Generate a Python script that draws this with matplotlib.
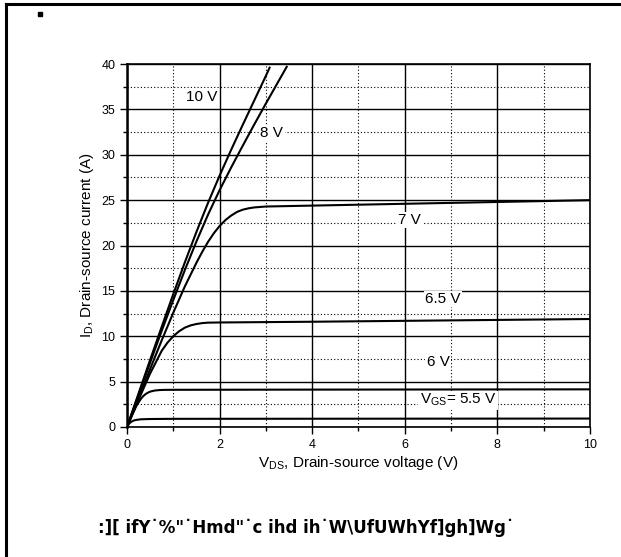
import numpy as np
import matplotlib
matplotlib.use('Agg')
import matplotlib.pyplot as plt
from matplotlib.ticker import MultipleLocator

plt.rcParams['font.family'] = ['Liberation Sans', 'DejaVu Sans']

# output characteristics, V_DS (V) -> I_D (A)
vds_10 = [0, 0.25, 0.5, 0.75, 1.0, 1.25, 1.5, 1.75, 2.0, 2.25, 2.5, 2.75, 3.0, 3.08]
id_10 = [0, 3.7, 7.4, 11.05, 14.65, 18.15, 21.5, 24.7, 27.7, 30.55, 33.3, 36.0, 38.7, 39.6]

vds_8 = [0, 0.25, 0.5, 0.75, 1.0, 1.25, 1.5, 1.75, 2.0, 2.25, 2.5, 2.75, 3.0, 3.25, 3.45]
id_8 = [0, 3.55, 7.1, 10.6, 14.0, 17.3, 20.45, 23.4, 26.1, 28.6, 31.0, 33.35, 35.65, 37.9, 39.7]

vds_7 = [0, 0.25, 0.5, 0.75, 1.0, 1.25, 1.5, 1.625, 1.75, 1.875, 2.0, 2.125, 2.25,
         2.375, 2.5, 2.625, 2.75, 3.0, 4.0, 6.0, 8.0, 10.0]
id_7 = [0, 3.2, 6.4, 9.55, 12.6, 15.5, 18.1, 19.3, 20.4, 21.35, 22.15, 22.8, 23.3,
        23.7, 23.95, 24.1, 24.2, 24.3, 24.4, 24.6, 24.8, 25.0]

vds_65 = [0, 0.25, 0.5, 0.75, 0.875, 1.0, 1.125, 1.25, 1.375, 1.5, 1.625, 1.75, 2.0,
          4.0, 6.0, 8.0, 10.0]
id_65 = [0, 3.0, 5.9, 8.4, 9.3, 10.0, 10.55, 10.95, 11.2, 11.35, 11.45, 11.5, 11.52,
         11.6, 11.7, 11.8, 11.9]

vds_6 = [0, 0.1, 0.2, 0.3, 0.35, 0.4, 0.45, 0.5, 0.6, 0.7, 0.8, 1.0, 4.0, 10.0]
id_6 = [0, 1.2, 2.3, 3.1, 3.4, 3.62, 3.78, 3.9, 4.02, 4.07, 4.09, 4.1, 4.12, 4.15]

vds_55 = [0, 0.05, 0.1, 0.15, 0.2, 0.3, 0.5, 1.0, 10.0]
id_55 = [0, 0.4, 0.6, 0.72, 0.78, 0.85, 0.88, 0.9, 0.93]

curve_labels = ['10 V', '8 V', '7 V', '6.5 V', '6 V', r'$\mathregular{V_{GS}}$= 5.5 V']
label_x = [1.62, 3.13, 6.11, 6.82, 6.72, 7.15]
label_y = [36.4, 32.4, 22.8, 14.1, 7.2, 2.95]

caption = ':][ ifY˙%"˙Hmd"˙c ihd ih˙W\\UfUWhYf]gh]Wg˙'


def main():
    fig = plt.figure(figsize=(6.21, 5.57), dpi=100)
    ax = fig.add_axes([0.2045, 0.2334, 0.7455, 0.6516])

    curves = [(vds_10, id_10), (vds_8, id_8), (vds_7, id_7),
              (vds_65, id_65), (vds_6, id_6), (vds_55, id_55)]
    for x, y in curves:
        ax.plot(x, y, color='black', lw=1.5, zorder=3, solid_joinstyle='round')

    for txt, x, y in zip(curve_labels, label_x, label_y):
        ax.text(x, y, txt, fontsize=11, ha='center', va='center', zorder=4,
                bbox=dict(facecolor='white', edgecolor='none', pad=1.0))

    ax.set_xlim(0, 10)
    ax.set_ylim(0, 40)
    ax.xaxis.set_major_locator(MultipleLocator(2))
    ax.xaxis.set_minor_locator(MultipleLocator(1))
    ax.yaxis.set_major_locator(MultipleLocator(5))
    ax.yaxis.set_minor_locator(MultipleLocator(2.5))
    ax.grid(which='major', color='black', lw=1.0, ls='-')
    ax.grid(which='minor', color='black', lw=0.8, ls=(0, (1, 2)))
    ax.set_axisbelow(True)
    ax.tick_params(which='major', direction='out', length=5, width=1, labelsize=9)
    ax.tick_params(which='minor', direction='out', length=3, width=1)
    for s in ax.spines.values():
        s.set_linewidth(1.2)
    ax.spines['left'].set_linewidth(1.8)

    ax.set_xlabel(r'$\mathregular{V_{DS}}$, Drain-source voltage (V)', fontsize=11, labelpad=2)
    ax.set_ylabel(r'$\mathregular{I_{D}}$, Drain-source current (A)', fontsize=11, labelpad=4)

    fig.text(0.493, 1 - 528 / 557, caption, fontsize=12, fontweight='bold',
             ha='center', va='center', family=['Liberation Sans Narrow', 'DejaVu Sans'])

    # page frame and stray mark
    fig.add_artist(plt.Line2D([0.009, 1.0], [1 - 3.5 / 557, 1 - 3.5 / 557], color='black', lw=2.2))
    fig.add_artist(plt.Line2D([0.009, 0.009], [0, 1 - 3.5 / 557], color='black', lw=2.2))
    fig.add_artist(plt.Line2D([40 / 621], [1 - 14 / 557], marker='s', ms=2.5, color='black'))

    fig.savefig('out.png', dpi=100)


if __name__ == "__main__":
    main()
